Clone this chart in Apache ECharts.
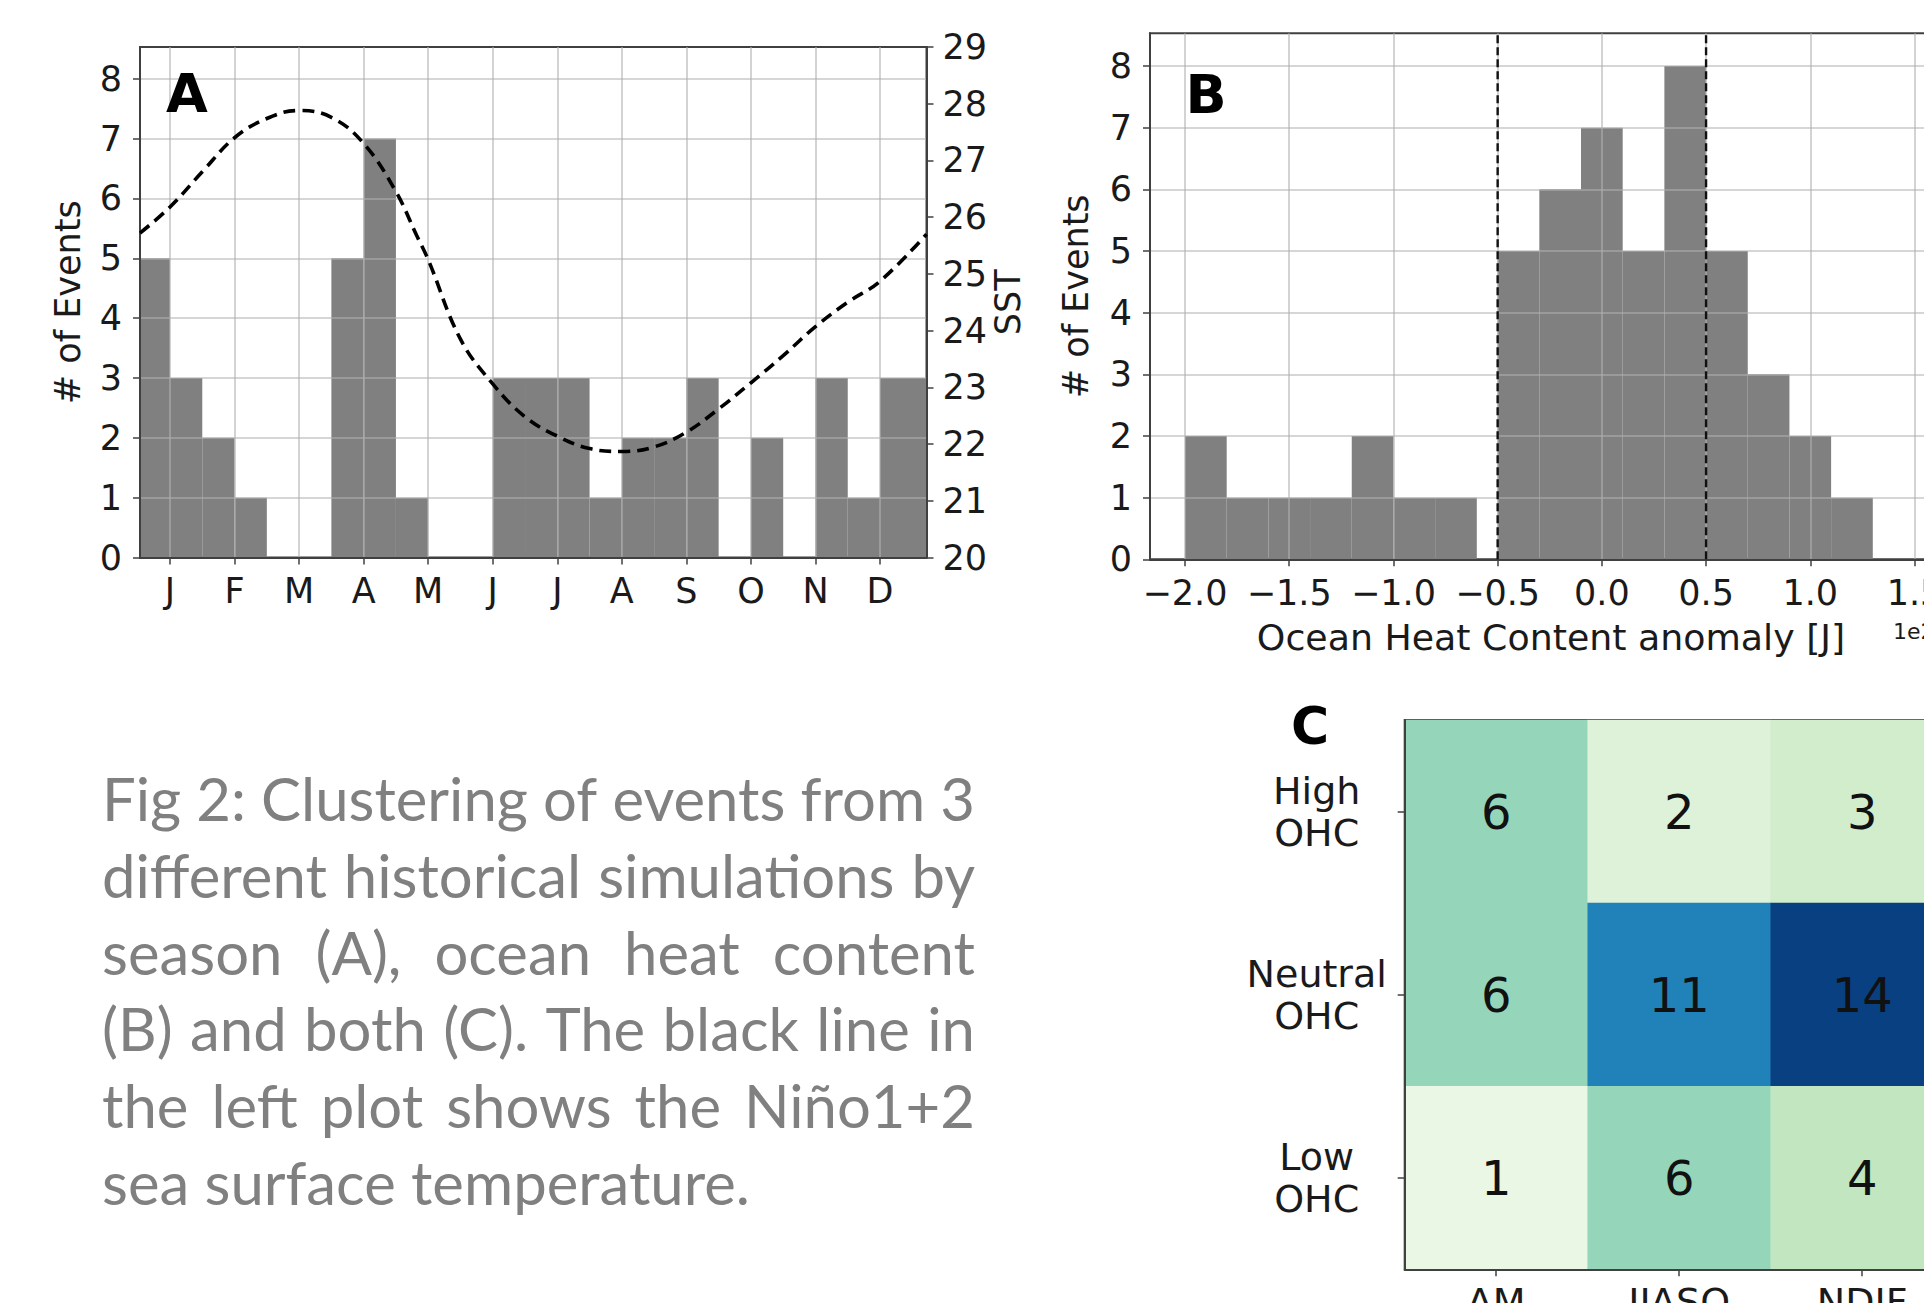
<!DOCTYPE html>
<html>
<head>
<meta charset="utf-8">
<script src="https://cdn.jsdelivr.net/npm/echarts@6/dist/echarts.min.js"></script>
<style>
html,body{margin:0;padding:0;background:#fff;}
#chart{position:absolute;left:0;top:0;width:1924px;height:1303px;}
#caption{position:absolute;left:102px;top:760px;width:873px;font-family:Lato,'Open Sans',sans-serif;color:#808080;line-height:76.8px;z-index:2;}
#caption .capline{white-space:nowrap;height:76.8px;}
#caption span{white-space:nowrap;}
</style>
</head>
<body>
<div id="chart"></div>
<div id="caption"></div>
<script>
// ---------- Panel A: events by season + Nino1+2 SST ----------
const monthLabels = ['J','F','M','A','M','J','J','A','S','O','N','D'];
const monthTickPos = [1,2,3,4,5,6,7,8,9,10,11,12];
const seasonBinEdges = [0.535,1,1.5,2,2.5,3,3.5,4,4.5,5,5.5,6,6.5,7,7.5,8,8.5,9,9.5,10,10.5,11,11.5,12,12.72];
const seasonCounts = [5,3,2,1,0,0,5,7,1,0,0,3,3,3,1,2,2,3,0,2,0,3,1,3];
const sstMonth = [0.535,1,1.5,2,2.5,3,3.5,4,4.5,4.82,5,5.5,6,6.5,7,7.5,8,8.5,9,9.5,10,10.5,11,11.5,12,12.72];
const sstValue = [25.72,26.18,26.80,27.40,27.74,27.88,27.76,27.30,26.45,25.68,25.25,23.85,23.06,22.48,22.14,21.92,21.87,21.95,22.21,22.62,23.08,23.56,24.07,24.50,24.87,25.70];
const countTicks = [0,1,2,3,4,5,6,7,8];
const monthAxisMin = 0.535, monthAxisMax = 12.72;
const countAxisMax = 8.53;
const sstAxisMin = 20, sstAxisMax = 29;

// ---------- Panel B: events by ocean heat content anomaly ----------
const ohcBinLeft = [-2.0,-1.8,-1.6,-1.4,-1.2,-1.0,-0.8,-0.5,-0.3,-0.1,0.1,0.3,0.5,0.7,0.9,1.1];
const ohcBinWidth = 0.2;
const ohcCounts = [2,1,1,1,2,1,1,5,6,7,5,8,5,3,2,1];
const ohcThresholds = [-0.5, 0.5];
const ohcTicks = [-2.0,-1.5,-1.0,-0.5,0.0,0.5,1.0,1.5];
const ohcAxisMin = -2.168, ohcAxisMax = 1.68;

// ---------- Panel C: season x OHC class ----------
const seasonGroups = ['AM','JJASO','NDJF'];
const ohcClasses = ['High\nOHC','Neutral\nOHC','Low\nOHC'];
const highOHC = [6,2,3];
const neutralOHC = [6,11,14];
const lowOHC = [1,6,4];
const gnbu = ['#f7fcf0','#e0f3db','#ccebc5','#a8ddb5','#7bccc4','#4eb3d3','#2b8cbe','#0868ac','#084081'];

// ---------- Caption ----------
const captionLines = [
  'Fig 2: Clustering of events from 3',
  'different historical simulations by',
  'season (A), ocean heat content',
  '(B) and both (C). The black line in',
  'the left plot shows the Niño1+2',
  'sea surface temperature.'
];

const FONT = 'DejaVu Sans';
const spine = {color:'#404040', width:2};
const tickStyle = {color:'#404040', width:1.5};
const gridLine = {show:true, lineStyle:{color:'rgba(176,176,176,0.7)', width:1.6}};
const labelBase = {fontFamily:FONT, fontSize:35, color:'#1a1a1a'};

function histRender(params, api){
  const x0 = api.value(0), x1 = api.value(1), v = api.value(2);
  const p0 = api.coord([x0, 0]);
  const p1 = api.coord([x1, v]);
  return {type:'rect', shape:{x:p0[0], y:p1[1], width:p1[0]-p0[0], height:p0[1]-p1[1]}, style:{fill:'#808080'}};
}

const seasonData = seasonCounts.map((c,i)=>[seasonBinEdges[i], seasonBinEdges[i+1], c]);
const ohcData = ohcCounts.map((c,i)=>[ohcBinLeft[i], ohcBinLeft[i]+ohcBinWidth, c]);
const heatData = [];
[highOHC, neutralOHC, lowOHC].forEach((row, r)=>row.forEach((v, c)=>heatData.push([c, r, v])));
const fmtNum = v => (v < 0 ? '\u2212' : '') + Math.abs(v).toFixed(1);

const chart = echarts.init(document.getElementById('chart'), null, {renderer:'svg', width:1924, height:1303});
const option = {
  animation:false,
  backgroundColor:'#ffffff',
  textStyle:{fontFamily:FONT},
  grid:[
    {left:140, top:47, width:786.5, height:510.5, show:true, borderColor:'#404040', borderWidth:2, outerBoundsMode:'none', containLabel:false},
    {left:1150, top:33.3, width:802, height:526, show:true, borderColor:'#404040', borderWidth:2, outerBoundsMode:'none', containLabel:false},
    {left:1404.7, top:720, width:549, height:549.3, show:true, borderColor:'#404040', borderWidth:2, outerBoundsMode:'none', containLabel:false}
  ],
  xAxis:[
    {gridIndex:0, type:'value', min:monthAxisMin, max:monthAxisMax, z:3,
     axisLine:{show:true, onZero:false, lineStyle:spine},
     axisTick:{show:true, customValues:monthTickPos, length:7, lineStyle:tickStyle},
     axisLabel:Object.assign({customValues:monthTickPos, margin:16, formatter:v=>monthLabels[Math.round(v)-1]}, labelBase),
     splitLine:gridLine},
    {gridIndex:1, type:'value', min:ohcAxisMin, max:ohcAxisMax, z:3,
     name:'Ocean Heat Content anomaly [J]', nameLocation:'middle', nameGap:60,
     nameTextStyle:{fontFamily:FONT, fontSize:36.3, color:'#1a1a1a'},
     axisLine:{show:true, onZero:false, lineStyle:spine},
     axisTick:{show:true, customValues:ohcTicks, length:7, lineStyle:tickStyle},
     axisLabel:Object.assign({customValues:ohcTicks, margin:16, formatter:fmtNum}, labelBase),
     splitLine:gridLine},
    {gridIndex:2, type:'category', data:seasonGroups, z:3,
     axisLine:{show:true, onZero:false, lineStyle:spine},
     axisTick:{show:true, alignWithLabel:true, length:7, lineStyle:tickStyle},
     axisLabel:{fontFamily:FONT, fontSize:38, color:'#1a1a1a', margin:14},
     splitLine:{show:false}}
  ],
  yAxis:[
    {gridIndex:0, type:'value', min:0, max:countAxisMax, z:3,
     name:'# of Events', nameLocation:'middle', nameRotate:90, nameGap:55, nameTextStyle:labelBase,
     axisLine:{show:true, onZero:false, lineStyle:spine},
     axisTick:{show:true, customValues:countTicks, length:7, lineStyle:tickStyle},
     axisLabel:Object.assign({customValues:countTicks, margin:18}, labelBase),
     splitLine:gridLine},
    {gridIndex:0, type:'value', position:'right', min:sstAxisMin, max:sstAxisMax, interval:1, z:3,
     name:'SST', nameLocation:'middle', nameRotate:90, nameGap:62, nameTextStyle:labelBase,
     axisLine:{show:true, onZero:false, lineStyle:spine},
     axisTick:{show:true, length:7, lineStyle:tickStyle},
     axisLabel:Object.assign({margin:16}, labelBase),
     splitLine:{show:false}},
    {gridIndex:1, type:'value', min:0, max:countAxisMax, z:3,
     name:'# of Events', nameLocation:'middle', nameRotate:90, nameGap:57, nameTextStyle:labelBase,
     axisLine:{show:true, onZero:false, lineStyle:spine},
     axisTick:{show:true, customValues:countTicks, length:7, lineStyle:tickStyle},
     axisLabel:Object.assign({customValues:countTicks, margin:18}, labelBase),
     splitLine:gridLine},
    {gridIndex:2, type:'category', data:ohcClasses, inverse:true, z:3,
     axisLine:{show:true, onZero:false, lineStyle:spine},
     axisTick:{show:true, alignWithLabel:true, length:7, lineStyle:tickStyle},
     axisLabel:{fontFamily:FONT, fontSize:38, color:'#1a1a1a', align:'center', margin:88, lineHeight:42},
     splitLine:{show:false}}
  ],
  visualMap:{type:'continuous', show:false, min:0, max:14, dimension:2, seriesIndex:5, inRange:{color:gnbu}},
  series:[
    {type:'custom', xAxisIndex:0, yAxisIndex:0, renderItem:histRender, data:seasonData, encode:{x:[0,1], y:2}, z:2},
    {type:'line', xAxisIndex:0, yAxisIndex:1, data:sstMonth.map((m,i)=>[m, sstValue[i]]), smooth:0.4, symbol:'none', z:5,
     lineStyle:{color:'#000', width:3.6, type:[12,7]}},
    {type:'custom', xAxisIndex:1, yAxisIndex:2, renderItem:histRender, data:ohcData, encode:{x:[0,1], y:2}, z:2},
    {type:'line', xAxisIndex:1, yAxisIndex:2, data:[[ohcThresholds[0],0],[ohcThresholds[0],countAxisMax]], symbol:'none', z:5,
     lineStyle:{color:'#111', width:2.4, type:[8,4]}},
    {type:'line', xAxisIndex:1, yAxisIndex:2, data:[[ohcThresholds[1],0],[ohcThresholds[1],countAxisMax]], symbol:'none', z:5,
     lineStyle:{color:'#111', width:2.4, type:[8,4]}},
    {type:'heatmap', xAxisIndex:2, yAxisIndex:3, data:heatData,
     label:{show:true, fontFamily:FONT, fontSize:48, color:'#111', formatter:p=>String(p.value[2])},
     emphasis:{disabled:true}, itemStyle:{borderWidth:0}}
  ],
  graphic:[
    {type:'text', x:187, y:93, z:10, style:{text:'A', font:'bold 54px "DejaVu Sans"', fill:'#000', align:'center', verticalAlign:'middle', textAlign:'center', textVerticalAlign:'middle'}},
    {type:'text', x:1206, y:94.5, z:10, style:{text:'B', font:'bold 54px "DejaVu Sans"', fill:'#000', align:'center', verticalAlign:'middle', textAlign:'center', textVerticalAlign:'middle'}},
    {type:'text', x:1310, y:726, z:10, style:{text:'C', font:'bold 52px "DejaVu Sans"', fill:'#000', align:'center', verticalAlign:'middle', textAlign:'center', textVerticalAlign:'middle'}},
    {type:'text', x:1893, y:631, z:10, style:{text:'1e22', font:'22px "DejaVu Sans"', fill:'#1a1a1a', align:'left', verticalAlign:'middle', textAlign:'left', textVerticalAlign:'middle'}}
  ]
};
chart.setOption(option);

// caption: justified lines, font size fitted to last line width
(function(){
  const cap = document.getElementById('caption');
  const cv = document.createElement('canvas').getContext('2d');
  cv.font = '100px Lato';
  const w = cv.measureText(captionLines[captionLines.length-1]).width;
  const fs = Math.min(64, 100 * 648 / w);
  cap.style.fontSize = fs + 'px';
  captionLines.forEach((line, i)=>{
    const d = document.createElement('div');
    d.className = 'capline';
    if (i < captionLines.length - 1) {
      d.style.display = 'flex';
      d.style.justifyContent = 'space-between';
      line.split(' ').forEach(word=>{
        const s = document.createElement('span');
        s.textContent = word;
        d.appendChild(s);
      });
    } else {
      d.textContent = line;
    }
    cap.appendChild(d);
  });
})();
</script>
</body>
</html>
